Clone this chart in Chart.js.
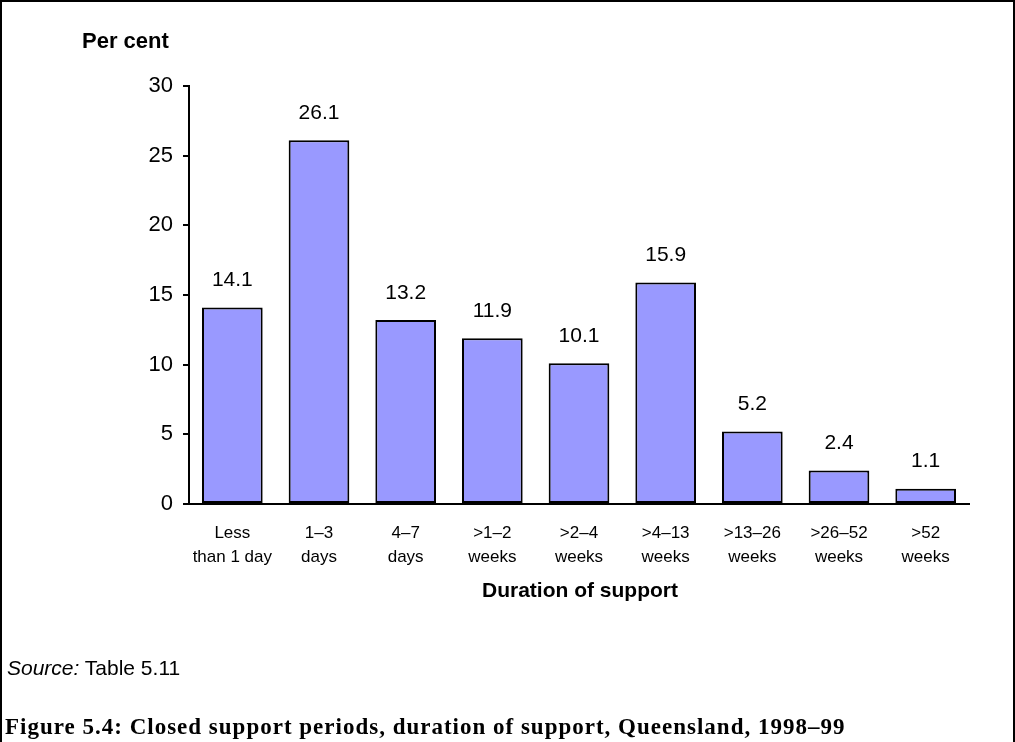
<!DOCTYPE html>
<html lang="en">

<head>
  <meta charset="UTF-8">
  <title>Closed support periods, duration of support</title>
  <style>
    body {
      margin: 0;
      background: #fff;
    }

    .quadro {
      position: absolute;
      left: 0;
      top: 0;
      width: 1011px;
      height: 742px;
      border-left: 2px solid #000;
      border-right: 2px solid #000;
      border-top: 2px solid #000;
      box-sizing: content-box;
    }

    .grafico {
      position: absolute;
      left: 0;
      top: 0;
      width: 1015px;
      height: 620px;
    }

    .fonte {
      position: absolute;
      left: 7px;
      top: 655px;
      font-family: "Liberation Sans", Arial, sans-serif;
      font-size: 21px;
      line-height: 25px;
      color: #000;
    }

    .legenda {
      position: absolute;
      left: 5px;
      top: 712px;
      font-family: "Liberation Serif", "Times New Roman", serif;
      font-weight: bold;
      font-size: 23px;
      letter-spacing: 1px;
      line-height: 29px;
      color: #000;
      white-space: nowrap;
    }
  </style>
</head>

<body>
  <div class="grafico">
    <canvas id="chartDuracao" width="1015" height="620"></canvas>
  </div>
  <div class="quadro"></div>
  <div class="fonte"><i>Source:</i> Table 5.11</div>
  <div class="legenda">Figure 5.4: Closed support periods, duration of support, Queensland, 1998–99</div>
</body>

</html>
<script src="https://cdn.jsdelivr.net/npm/chart.js"></script>

<script>
  // Dados do gráfico
  var categorias = [
    ["Less", "than 1 day"],
    ["1–3", "days"],
    ["4–7", "days"],
    [">1–2", "weeks"],
    [">2–4", "weeks"],
    [">4–13", "weeks"],
    [">13–26", "weeks"],
    [">26–52", "weeks"],
    [">52", "weeks"]
  ];
  var percentuais = [14.1, 26.1, 13.2, 11.9, 10.1, 15.9, 5.2, 2.4, 1.1];
  var ticksY = [0, 5, 10, 15, 20, 25, 30];

  Chart.defaults.font.family = '"Liberation Sans", Arial, sans-serif';
  Chart.defaults.color = '#000';

  // rótulos de valor e títulos dos eixos
  var pluginTextos = {
    id: 'textos',
    afterDatasetsDraw: function (chart) {
      var ctx = chart.ctx;
      var meta = chart.getDatasetMeta(0);
      ctx.save();
      ctx.fillStyle = '#000';
      ctx.textAlign = 'center';
      ctx.textBaseline = 'middle';
      ctx.font = '21px "Liberation Sans", Arial, sans-serif';
      for (var i = 0; i < meta.data.length; i++) {
        var barra = meta.data[i];
        ctx.fillText(percentuais[i].toFixed(1), barra.x, barra.y - 27);
      }
      ctx.font = 'bold 21px "Liberation Sans", Arial, sans-serif';
      ctx.fillText('Duration of support', (chart.chartArea.left + chart.chartArea.right) / 2 + 1, 591);
      ctx.textAlign = 'left';
      ctx.font = 'bold 22px "Liberation Sans", Arial, sans-serif';
      ctx.fillText('Per cent', 82, 42);
      ctx.restore();
    }
  };

  var canva_chartDuracao = document.getElementById("chartDuracao");
  var grafico_Duracao = new Chart(canva_chartDuracao, {
    type: 'bar',
    data: {
      labels: categorias,
      datasets: [{
        label: 'Per cent',
        data: percentuais,
        backgroundColor: '#9999ff',
        borderColor: '#000',
        borderWidth: 2,
        borderSkipped: false,
        barPercentage: 0.70,
        categoryPercentage: 1
      }]
    },
    options: {
      responsive: false,
      animation: false,
      layout: {
        padding: { left: 0, right: 46, top: 86, bottom: 0 }
      },
      plugins: {
        legend: { display: false },
        tooltip: { enabled: false },
        title: { display: false }
      },
      scales: {
        x: {
          grid: { display: false, drawTicks: false },
          border: { display: true, color: '#000', width: 2 },
          ticks: {
            padding: 17,
            maxRotation: 0,
            autoSkip: false,
            font: { size: 17, lineHeight: 24 / 17 }
          },
          afterFit: function (escala) {
            escala.height = 116;
          }
        },
        y: {
          min: 0,
          max: 30,
          afterBuildTicks: function (escala) {
            escala.ticks = ticksY.map(function (v) { return { value: v }; });
          },
          grid: {
            drawOnChartArea: false,
            drawTicks: true,
            tickLength: 6,
            color: '#000',
            lineWidth: 2
          },
          border: { display: true, color: '#000', width: 2 },
          ticks: {
            padding: 10,
            font: { size: 22 }
          },
          afterFit: function (escala) {
            escala.width = 189;
          }
        }
      }
    },
    plugins: [pluginTextos]
  });
</script>
